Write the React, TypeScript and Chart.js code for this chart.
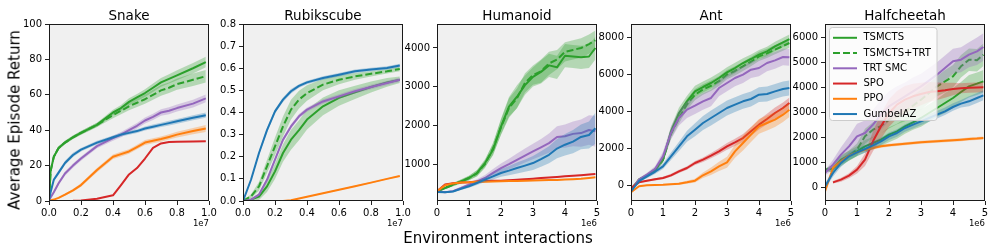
import React, { useEffect, useRef } from "react";
import { Chart, registerables } from "chart.js";
Chart.register(...registerables);

// ---------- series meta ----------
const seriesNames = ["TSMCTS", "TSMCTS+TRT", "TRT SMC", "SPO", "PPO", "GumbelAZ"];

// ---------- Snake (x in 1e7) ----------
const snakeX = [0, 0.01, 0.03, 0.06, 0.1, 0.15, 0.2, 0.3, 0.4, 0.45, 0.5, 0.55, 0.6, 0.65, 0.7, 0.75, 0.8, 0.9, 0.98];
const snakeTSMCTS = [0, 17, 25, 30, 33, 36, 38.5, 43, 50, 52.5, 56, 58.5, 61, 64, 67, 69, 71, 75, 78.5];
const snakeTSMCTSTRT = [0, 17, 25, 30, 33, 36, 38.5, 43, 48.5, 51, 53.5, 55.5, 57.5, 60, 62.5, 64, 66, 68.5, 70.5];
const snakeTRTSMC = [0, 2, 5, 10, 15.5, 20, 24, 31, 35.5, 37.5, 40, 42.5, 45.5, 47.5, 50, 51, 52.5, 55, 58];
const snakeSPO = [0, 0, 0, 0, 0, 0.1, 0.3, 1.3, 3.2, 9, 15, 18.6, 24, 30, 32.5, 33.3, 33.5, 33.6, 33.7];
const snakePPO = [0, 0.3, 0.8, 1.8, 3.6, 6, 9, 17.5, 25, 26.5, 28, 30.5, 33, 34, 35, 36.2, 37.5, 39.5, 41];
const snakeGumbelAZ = [0, 5, 12, 16, 21.5, 26, 29, 33, 36, 37.5, 38.5, 39.5, 41, 42, 43, 44, 45, 47, 48.5];
const snakeBandTSMCTS = [0, 1, 1, 1, 1, 1, 1, 1.2, 1.5, 1.7, 2, 2, 2.2, 2.4, 2.5, 2.6, 2.8, 3, 3];
const snakeBandTSMCTSTRT = [0, 1, 1, 1, 1, 1, 1, 1.2, 1.8, 2, 2.2, 2.4, 2.6, 2.8, 3, 3, 3.2, 3.5, 3.5];
const snakeBandTRTSMC = [0, 0.5, 0.8, 1, 1.2, 1.2, 1.2, 1.2, 1.4, 1.5, 1.5, 1.6, 1.7, 1.8, 1.9, 2, 2, 2.2, 2.2];
const snakeBandSPO = [0, 0, 0, 0, 0, 0, 0.1, 0.2, 0.3, 0.4, 0.4, 0.4, 0.4, 0.4, 0.3, 0.2, 0.2, 0.2, 0.2];
const snakeBandPPO = [0, 0.2, 0.3, 0.4, 0.6, 0.8, 1, 1.2, 1.3, 1.3, 1.3, 1.3, 1.4, 1.4, 1.5, 1.5, 1.6, 1.8, 2];
const snakeBandGumbelAZ = [0, 0.8, 1, 1.2, 1.2, 1.2, 1, 1, 1, 1, 1, 1.1, 1.1, 1.2, 1.2, 1.3, 1.3, 1.4, 1.5];
const snakeXTicks = [0, 0.2, 0.4, 0.6, 0.8, 1.0];
const snakeYTicks = [0, 20, 40, 60, 80, 100];

// ---------- Rubikscube (x in 1e7) ----------
const rubikX = [0, 0.05, 0.1, 0.15, 0.2, 0.25, 0.3, 0.35, 0.4, 0.5, 0.6, 0.7, 0.8, 0.9, 0.98];
const rubikTSMCTS = [0, 0.006, 0.02, 0.066, 0.134, 0.217, 0.277, 0.32, 0.368, 0.428, 0.466, 0.491, 0.515, 0.536, 0.548];
const rubikTSMCTSTRT = [0, 0.021, 0.066, 0.157, 0.247, 0.337, 0.413, 0.458, 0.488, 0.526, 0.548, 0.563, 0.575, 0.586, 0.597];
const rubikTRTSMC = [0, 0.006, 0.029, 0.096, 0.187, 0.277, 0.337, 0.383, 0.413, 0.45, 0.473, 0.496, 0.515, 0.533, 0.548];
const rubikSPO = [0, 0, 0, 0, 0, 0, 0, 0, 0, 0, 0, 0, 0, 0, 0];
const rubikPPO = [0, 0, 0, 0, 0, 0, 0.003, 0.011, 0.019, 0.035, 0.051, 0.067, 0.083, 0.1, 0.113];
const rubikGumbelAZ = [0, 0.096, 0.217, 0.32, 0.405, 0.458, 0.496, 0.52, 0.536, 0.556, 0.571, 0.586, 0.594, 0.601, 0.612];
const rubikBandTSMCTS = [0, 0.005, 0.015, 0.025, 0.035, 0.04, 0.045, 0.045, 0.045, 0.04, 0.035, 0.03, 0.025, 0.02, 0.015];
const rubikBandTSMCTSTRT = [0, 0.01, 0.02, 0.03, 0.04, 0.045, 0.045, 0.04, 0.035, 0.025, 0.02, 0.015, 0.012, 0.01, 0.01];
const rubikBandTRTSMC = [0, 0.003, 0.005, 0.008, 0.01, 0.01, 0.01, 0.01, 0.01, 0.01, 0.01, 0.01, 0.01, 0.01, 0.01];
const rubikBandSPO = [0, 0, 0, 0, 0, 0, 0, 0, 0, 0, 0, 0, 0, 0, 0];
const rubikBandPPO = [0, 0, 0, 0, 0, 0, 0.001, 0.001, 0.002, 0.002, 0.002, 0.003, 0.003, 0.003, 0.003];
const rubikBandGumbelAZ = [0, 0.005, 0.008, 0.01, 0.01, 0.01, 0.01, 0.008, 0.008, 0.008, 0.008, 0.008, 0.008, 0.008, 0.008];
const rubikXTicks = [0, 0.2, 0.4, 0.6, 0.8, 1.0];
const rubikYTicks = [0, 0.1, 0.2, 0.3, 0.4, 0.5, 0.6, 0.7, 0.8];

// ---------- MuJoCo grid (x in 1e6) ----------
const mujocoX = [0, 0.25, 0.5, 0.75, 1, 1.25, 1.5, 1.75, 2, 2.25, 2.5, 2.75, 3, 3.25, 3.5, 3.75, 4, 4.25, 4.5, 4.75, 4.95];
const mujocoXTicks = [0, 1, 2, 3, 4, 5];

// Humanoid
const humTSMCTS = [297, 380, 469, 550, 640, 769, 1026, 1368, 1968, 2482, 2740, 3040, 3254, 3382, 3550, 3500, 3800, 3780, 3760, 3780, 4000];
const humTSMCTSTRT = [297, 380, 469, 550, 640, 760, 1000, 1400, 1950, 2450, 2700, 3100, 3300, 3400, 3600, 3700, 3900, 3950, 4000, 4100, 4200];
const humTRTSMC = [297, 270, 300, 380, 469, 550, 640, 770, 897, 1000, 1111, 1220, 1325, 1430, 1540, 1700, 1720, 1780, 1800, 1880, 1850];
const humSPO = [297, 470, 505, 520, 530, 550, 560, 566, 571, 584, 597, 610, 623, 638, 653, 668, 683, 698, 713, 728, 743];
const humPPO = [297, 450, 500, 525, 530, 540, 545, 550, 554, 560, 565, 570, 575, 580, 585, 590, 600, 610, 620, 640, 657];
const humGumbelAZ = [280, 270, 290, 360, 426, 510, 597, 680, 769, 830, 897, 960, 1026, 1130, 1240, 1400, 1500, 1580, 1700, 1750, 1925];
const humBandTSMCTS = [20, 30, 40, 50, 60, 80, 100, 150, 200, 250, 300, 250, 250, 300, 300, 300, 300, 300, 300, 300, 300];
const humBandTSMCTSTRT = [20, 30, 40, 50, 60, 80, 100, 150, 200, 250, 250, 250, 250, 300, 300, 250, 250, 250, 250, 250, 250];
const humBandTRTSMC = [20, 20, 20, 30, 40, 60, 80, 100, 120, 140, 160, 180, 200, 220, 250, 280, 300, 320, 350, 380, 400];
const humBandSPO = [15, 15, 15, 15, 15, 15, 15, 15, 15, 15, 15, 15, 15, 15, 15, 15, 15, 15, 15, 15, 15];
const humBandPPO = [15, 15, 15, 15, 15, 15, 15, 15, 15, 15, 15, 15, 15, 15, 15, 15, 15, 15, 15, 15, 15];
const humBandGumbelAZ = [20, 20, 20, 30, 40, 50, 60, 80, 100, 120, 140, 160, 180, 200, 220, 250, 280, 300, 320, 350, 400];
const humYTicks = [1000, 2000, 3000, 4000];

// Ant
const antTSMCTS = [-216, 324, 558, 865, 1405, 2937, 3928, 4559, 5099, 5333, 5550, 5820, 6126, 6360, 6630, 6847, 7081, 7261, 7531, 7748, 7928];
const antTSMCTSTRT = [-216, 324, 540, 840, 1400, 2800, 3658, 4400, 4919, 5200, 5400, 5650, 6000, 6200, 6450, 6700, 6991, 7150, 7350, 7550, 7712];
const antTRTSMC = [-216, 330, 600, 900, 1586, 2847, 3658, 4108, 4324, 4559, 4739, 5279, 5550, 5820, 6000, 6270, 6360, 6630, 6775, 6955, 6937];
const antSPO = [-126, 180, 270, 340, 414, 558, 774, 955, 1225, 1405, 1622, 1856, 2126, 2342, 2576, 2937, 3297, 3604, 3928, 4198, 4468];
const antPPO = [-360, -30, 18, 40, 54, 80, 108, 180, 270, 560, 775, 1045, 1261, 1856, 2306, 2757, 3207, 3387, 3568, 3838, 4108];
const antGumbelAZ = [-306, 250, 504, 750, 1045, 1586, 2126, 2667, 3027, 3387, 3658, 3928, 4198, 4378, 4559, 4685, 4919, 4955, 5099, 5225, 5279];
const antBandTSMCTS = [50, 80, 100, 120, 150, 250, 300, 300, 300, 300, 300, 280, 280, 280, 260, 250, 250, 250, 250, 250, 250];
const antBandTSMCTSTRT = [50, 80, 100, 120, 150, 250, 300, 300, 300, 280, 280, 260, 250, 250, 250, 250, 250, 250, 250, 250, 250];
const antBandTRTSMC = [50, 80, 100, 150, 250, 350, 400, 450, 450, 450, 450, 450, 450, 450, 450, 450, 450, 450, 450, 450, 450];
const antBandSPO = [30, 40, 50, 60, 70, 80, 90, 100, 110, 120, 140, 160, 180, 200, 220, 240, 260, 280, 300, 300, 300];
const antBandPPO = [30, 30, 30, 30, 40, 50, 60, 80, 100, 150, 200, 250, 300, 350, 400, 400, 400, 400, 400, 400, 400];
const antBandGumbelAZ = [50, 80, 100, 120, 150, 200, 250, 300, 350, 380, 400, 400, 400, 400, 400, 400, 400, 400, 400, 400, 400];
const antYTicks = [0, 2000, 4000, 6000, 8000];

// Halfcheetah
const hcTSMCTS = [707, 750, 1107, 1267, 1440, 1640, 1773, 1907, 2107, 2240, 2440, 2600, 2773, 2973, 3173, 3373, 3573, 3813, 4040, 4147, 4240];
const hcTSMCTSTRT = [680, 760, 1040, 1270, 1507, 2040, 2307, 2450, 2707, 2870, 3040, 3270, 3507, 3770, 4040, 4240, 4440, 4840, 5107, 5080, 5307];
const hcTRTSMC = [573, 907, 1307, 1640, 2040, 2173, 2507, 2907, 3240, 3440, 3640, 3840, 4040, 4270, 4507, 4770, 5040, 5107, 5307, 5440, 5613];
const hcSPO = [null, 200, 307, 467, 707, 1107, 1840, 2440, 2973, 3307, 3507, 3640, 3733, 3813, 3840, 3880, 3933, 3960, 3987, 3995, 4000];
const hcPPO = [-160, 773, 1040, 1267, 1400, 1507, 1573, 1640, 1680, 1710, 1747, 1775, 1800, 1820, 1840, 1860, 1880, 1905, 1933, 1950, 1973];
const hcGumbelAZ = [40, 573, 973, 1240, 1400, 1533, 1680, 1840, 2040, 2173, 2373, 2507, 2640, 2773, 2907, 3040, 3213, 3347, 3440, 3573, 3680];
const hcBandTSMCTS = [50, 150, 200, 200, 200, 250, 250, 250, 300, 300, 300, 300, 350, 350, 350, 400, 400, 400, 450, 450, 450];
const hcBandTSMCTSTRT = [50, 150, 200, 200, 250, 300, 300, 300, 350, 350, 400, 400, 400, 400, 400, 450, 450, 450, 450, 450, 450];
const hcBandTRTSMC = [100, 200, 300, 400, 500, 500, 600, 600, 600, 600, 550, 550, 500, 500, 500, 500, 500, 500, 500, 550, 550];
const hcBandSPO = [null, 50, 80, 100, 150, 250, 400, 500, 550, 550, 550, 500, 450, 400, 350, 300, 250, 200, 200, 200, 200];
const hcBandPPO = [100, 80, 70, 60, 60, 60, 60, 60, 60, 60, 60, 60, 60, 60, 60, 60, 60, 60, 60, 60, 60];
const hcBandGumbelAZ = [100, 150, 150, 150, 150, 150, 150, 150, 150, 150, 150, 150, 150, 150, 150, 150, 150, 150, 200, 200, 200];
const hcYTicks = [0, 1000, 2000, 3000, 4000, 5000, 6000];

// ---------- styles ----------
const COLORS = ["#2ca02c", "#2ca02c", "#9467bd", "#d62728", "#ff7f0e", "#1f77b4"];
const BAND_COLORS = [
  "rgba(44,160,44,0.3)",
  "rgba(44,160,44,0.3)",
  "rgba(148,103,189,0.3)",
  "rgba(214,39,40,0.3)",
  "rgba(255,127,14,0.3)",
  "rgba(31,119,180,0.3)",
];
const DASHED = [false, true, false, false, false, false];
const FONT = "'DejaVu Sans', sans-serif";

const PLOT_W = 160;
const AX_W = 45;
const PAD_R = 10;
const CANVAS_W = AX_W + PLOT_W + PAD_R;
const CANVAS_H = 249;

type PanelDef = {
  title: string;
  left: number;
  x: number[];
  means: (number | null)[][];
  bands: (number | null)[][];
  xMin: number;
  xMax: number;
  yMin: number;
  yMax: number;
  xTicks: number[];
  yTicks: number[];
  xFmt: (v: number) => string;
  yFmt: (v: number) => string;
  offset: string;
  legend: boolean;
};

const fmt1 = (v: number) => v.toFixed(1);
const fmt0 = (v: number) => String(Math.round(v));

const panels: PanelDef[] = [
  {
    title: "Snake", left: 49, x: snakeX,
    means: [snakeTSMCTS, snakeTSMCTSTRT, snakeTRTSMC, snakeSPO, snakePPO, snakeGumbelAZ],
    bands: [snakeBandTSMCTS, snakeBandTSMCTSTRT, snakeBandTRTSMC, snakeBandSPO, snakeBandPPO, snakeBandGumbelAZ],
    xMin: 0, xMax: 1, yMin: 0, yMax: 100, xTicks: snakeXTicks, yTicks: snakeYTicks,
    xFmt: fmt1, yFmt: fmt0, offset: "1e7", legend: false,
  },
  {
    title: "Rubikscube", left: 243, x: rubikX,
    means: [rubikTSMCTS, rubikTSMCTSTRT, rubikTRTSMC, rubikSPO, rubikPPO, rubikGumbelAZ],
    bands: [rubikBandTSMCTS, rubikBandTSMCTSTRT, rubikBandTRTSMC, rubikBandSPO, rubikBandPPO, rubikBandGumbelAZ],
    xMin: 0, xMax: 1, yMin: 0, yMax: 0.8, xTicks: rubikXTicks, yTicks: rubikYTicks,
    xFmt: fmt1, yFmt: fmt1, offset: "1e7", legend: false,
  },
  {
    title: "Humanoid", left: 437, x: mujocoX,
    means: [humTSMCTS, humTSMCTSTRT, humTRTSMC, humSPO, humPPO, humGumbelAZ],
    bands: [humBandTSMCTS, humBandTSMCTSTRT, humBandTRTSMC, humBandSPO, humBandPPO, humBandGumbelAZ],
    xMin: 0, xMax: 5, yMin: 45, yMax: 4620, xTicks: mujocoXTicks, yTicks: humYTicks,
    xFmt: fmt0, yFmt: fmt0, offset: "1e6", legend: false,
  },
  {
    title: "Ant", left: 631, x: mujocoX,
    means: [antTSMCTS, antTSMCTSTRT, antTRTSMC, antSPO, antPPO, antGumbelAZ],
    bands: [antBandTSMCTS, antBandTSMCTSTRT, antBandTRTSMC, antBandSPO, antBandPPO, antBandGumbelAZ],
    xMin: 0, xMax: 5, yMin: -830, yMax: 8740, xTicks: mujocoXTicks, yTicks: antYTicks,
    xFmt: fmt0, yFmt: fmt0, offset: "1e6", legend: false,
  },
  {
    title: "Halfcheetah", left: 825, x: mujocoX,
    means: [hcTSMCTS, hcTSMCTSTRT, hcTRTSMC, hcSPO, hcPPO, hcGumbelAZ],
    bands: [hcBandTSMCTS, hcBandTSMCTSTRT, hcBandTRTSMC, hcBandSPO, hcBandPPO, hcBandGumbelAZ],
    xMin: 0, xMax: 5, yMin: -547, yMax: 6533, xTicks: mujocoXTicks, yTicks: hcYTicks,
    xFmt: fmt0, yFmt: fmt0, offset: "1e6", legend: true,
  },
];

const decorPlugin = {
  id: "decor",
  beforeDraw(chart: any, _args: any, opts: any) {
    const { ctx, chartArea: a } = chart;
    ctx.save();
    ctx.fillStyle = "#f0f0f0";
    ctx.fillRect(a.left, a.top, a.right - a.left, a.bottom - a.top);
    ctx.restore();
  },
  afterDraw(chart: any, _args: any, opts: any) {
    const { ctx, chartArea: a } = chart;
    ctx.save();
    // frame
    ctx.strokeStyle = "#1a1a1a";
    ctx.lineWidth = 1;
    ctx.strokeRect(a.left + 0.5, a.top + 0.5, a.right - a.left - 1, a.bottom - a.top - 1);
    // title
    ctx.fillStyle = "#000";
    ctx.font = `13.5px ${FONT}`;
    ctx.textAlign = "center";
    ctx.textBaseline = "alphabetic";
    ctx.fillText(opts.title, (a.left + a.right) / 2, 20);
    // offset label
    ctx.font = `8.5px ${FONT}`;
    ctx.textAlign = "right";
    ctx.textBaseline = "middle";
    ctx.fillText(opts.offset, a.right, 224);
    // legend
    if (opts.legend) {
      const bx = a.left + 4.5;
      const by = a.top + 3.5;
      const bw = 107.5;
      const bh = 93;
      ctx.beginPath();
      (ctx as any).roundRect(bx, by, bw, bh, 3);
      ctx.fillStyle = "rgba(255,255,255,0.8)";
      ctx.fill();
      ctx.strokeStyle = "#cccccc";
      ctx.lineWidth = 1;
      ctx.stroke();
      ctx.font = `10px ${FONT}`;
      ctx.textAlign = "left";
      ctx.textBaseline = "middle";
      seriesNames.forEach((name, i) => {
        const y = a.top + 13.8 + i * 15.25;
        ctx.beginPath();
        ctx.setLineDash(DASHED[i] ? [7, 3] : []);
        ctx.strokeStyle = COLORS[i];
        ctx.lineWidth = 2;
        ctx.moveTo(a.left + 8, y);
        ctx.lineTo(a.left + 32, y);
        ctx.stroke();
        ctx.setLineDash([]);
        ctx.fillStyle = "#000";
        ctx.fillText(name, a.left + 38.5, y);
      });
    }
    ctx.restore();
  },
};

function Panel({ def }: { def: PanelDef }) {
  const ref = useRef<HTMLCanvasElement>(null);
  useEffect(() => {
    if (!ref.current) return;
    const datasets: any[] = [];
    def.means.forEach((m, s) => {
      const b = def.bands[s];
      const pts = (f: (v: number, bb: number) => number) =>
        def.x.map((x, i) => ({ x, y: m[i] == null ? null : f(m[i] as number, (b[i] as number) || 0) }));
      datasets.push({
        data: pts((v, bb) => v + bb),
        borderWidth: 0, borderColor: "rgba(0,0,0,0)", pointRadius: 0, fill: false,
      });
      datasets.push({
        data: pts((v, bb) => v - bb),
        borderWidth: 0, borderColor: "rgba(0,0,0,0)", pointRadius: 0,
        fill: "-1", backgroundColor: BAND_COLORS[s],
      });
      datasets.push({
        data: pts((v) => v),
        borderColor: COLORS[s], borderWidth: 2, pointRadius: 0, fill: false,
        borderDash: DASHED[s] ? [7, 3] : [], borderJoinStyle: "round", borderCapStyle: "butt",
      });
    });
    datasets.forEach((d, i) => { d.order = datasets.length - i; d.tension = 0; });

    const tickFont = { family: FONT, size: 10 };
    const chart = new Chart(ref.current, {
      type: "line",
      data: { datasets },
      plugins: [decorPlugin as any],
      options: {
        animation: false,
        responsive: false,
        devicePixelRatio: 1,
        layout: { padding: { top: 24, left: 0, right: PAD_R, bottom: 0 } },
        plugins: {
          legend: { display: false },
          tooltip: { enabled: false },
          title: { display: false },
          decor: { title: def.title, offset: def.offset, legend: def.legend },
        } as any,
        scales: {
          x: {
            type: "linear",
            min: def.xMin,
            max: def.xMax,
            afterBuildTicks: (sc: any) => { sc.ticks = def.xTicks.map((v) => ({ value: v })); },
            afterFit: (sc: any) => { sc.height = 48; },
            ticks: {
              callback: (v: any) => def.xFmt(Number(v)),
              font: tickFont, color: "#000", padding: 2, maxRotation: 0, autoSkip: false,
            },
            grid: { drawOnChartArea: false, drawTicks: true, tickLength: 4, tickColor: "#222", tickWidth: 1 },
            border: { display: false },
          },
          y: {
            type: "linear",
            min: def.yMin,
            max: def.yMax,
            afterBuildTicks: (sc: any) => { sc.ticks = def.yTicks.map((v) => ({ value: v })); },
            afterFit: (sc: any) => { sc.width = AX_W; },
            ticks: {
              callback: (v: any) => def.yFmt(Number(v)),
              font: tickFont, color: "#000", padding: 3, autoSkip: false,
            },
            grid: { drawOnChartArea: false, drawTicks: true, tickLength: 4, tickColor: "#222", tickWidth: 1 },
            border: { display: false },
          },
        },
      } as any,
    });
    return () => chart.destroy();
  }, [def]);

  return (
    <canvas
      ref={ref}
      width={CANVAS_W}
      height={CANVAS_H}
      style={{ position: "absolute", left: def.left - AX_W, top: 0, width: CANVAS_W, height: CANVAS_H }}
    />
  );
}

export default function App() {
  return (
    <div
      style={{
        position: "fixed", left: 0, top: 0, width: 996, height: 249,
        background: "#fff", overflow: "hidden", fontFamily: FONT,
      }}
    >
      {panels.map((p) => (
        <Panel key={p.title} def={p} />
      ))}
      <div
        style={{
          position: "absolute", left: 15, top: 120, fontSize: 15, lineHeight: 1,
          whiteSpace: "nowrap", transform: "translate(-50%, -50%) rotate(-90deg)", color: "#000",
        }}
      >
        Average Episode Return
      </div>
      <div
        style={{
          position: "absolute", left: 498, top: 238, fontSize: 15, lineHeight: 1,
          whiteSpace: "nowrap", transform: "translate(-50%, -50%)", color: "#000",
        }}
      >
        Environment interactions
      </div>
    </div>
  );
}
